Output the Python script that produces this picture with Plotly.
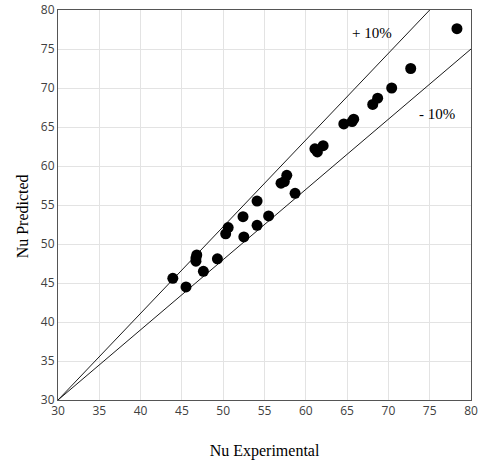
import plotly.graph_objects as go

nu_exp = [78.3, 72.7, 70.4, 68.7, 68.1, 65.8, 65.6, 64.6, 62.1, 61.4, 61.1,
          57.7, 57.4, 57.0, 58.7, 54.1, 52.4, 55.5, 54.1, 50.6, 50.3, 52.5,
          46.8, 46.7, 46.7, 49.3, 47.6, 43.9, 45.5]
nu_pred = [77.6, 72.5, 70.0, 68.7, 67.9, 66.0, 65.7, 65.4, 62.6, 61.8, 62.2,
           58.8, 58.0, 57.8, 56.5, 55.5, 53.5, 53.6, 52.4, 52.1, 51.3, 50.9,
           48.6, 48.2, 47.8, 48.1, 46.5, 45.6, 44.5]

# +/-10% bounds
upper_x = [30, 75]
upper_y = [30, 80]
lower_x = [30, 80]
lower_y = [30, 75]

ticks = [30, 35, 40, 45, 50, 55, 60, 65, 70, 75, 80]

serif = "Liberation Serif, Times New Roman, serif"
sans = "Open Sans, DejaVu Sans, sans-serif"

fig = go.Figure()
fig.add_trace(go.Scatter(x=upper_x, y=upper_y, mode="lines",
                         line=dict(color="#1a1a1a", width=1), showlegend=False))
fig.add_trace(go.Scatter(x=lower_x, y=lower_y, mode="lines",
                         line=dict(color="#1a1a1a", width=1), showlegend=False))
fig.add_trace(go.Scatter(x=nu_exp, y=nu_pred, mode="markers",
                         marker=dict(color="black", size=11), showlegend=False))

fig.add_annotation(x=68.0, y=77.0, text="+ 10%", showarrow=False,
                   font=dict(family=serif, size=15, color="black"))
fig.add_annotation(x=75.9, y=66.7, text="- 10%", showarrow=False,
                   font=dict(family=serif, size=15, color="black"))
# y title placed by hand, axis title standoff wouldn't go close enough to the edge
fig.add_annotation(xref="paper", yref="paper", x=-0.111, y=0.47,
                   text="Nu Predicted", textangle=-90, showarrow=False,
                   font=dict(family=serif, size=16, color="black"))

axis_common = dict(range=[30, 80], tickvals=ticks, showgrid=True,
                   gridcolor="#e3e3e3", gridwidth=1, zeroline=False,
                   showline=True, linecolor="#555555", linewidth=1, mirror=True,
                   ticks="", automargin=False,
                   tickfont=dict(family=sans, size=12, color="#404040"))

fig.update_layout(
    width=484, height=464,
    margin=dict(l=58, r=13, t=10, b=64),
    plot_bgcolor="white", paper_bgcolor="white",
    xaxis=dict(axis_common, title=dict(text="Nu Experimental", standoff=26,
                                       font=dict(family=serif, size=16, color="black"))),
    yaxis=axis_common,
)

# drop the browser's default 8px body margin so the figure sits at the corner
fig.write_html("out.html", config={"displayModeBar": False},
               post_script="document.body.style.margin='0';")
